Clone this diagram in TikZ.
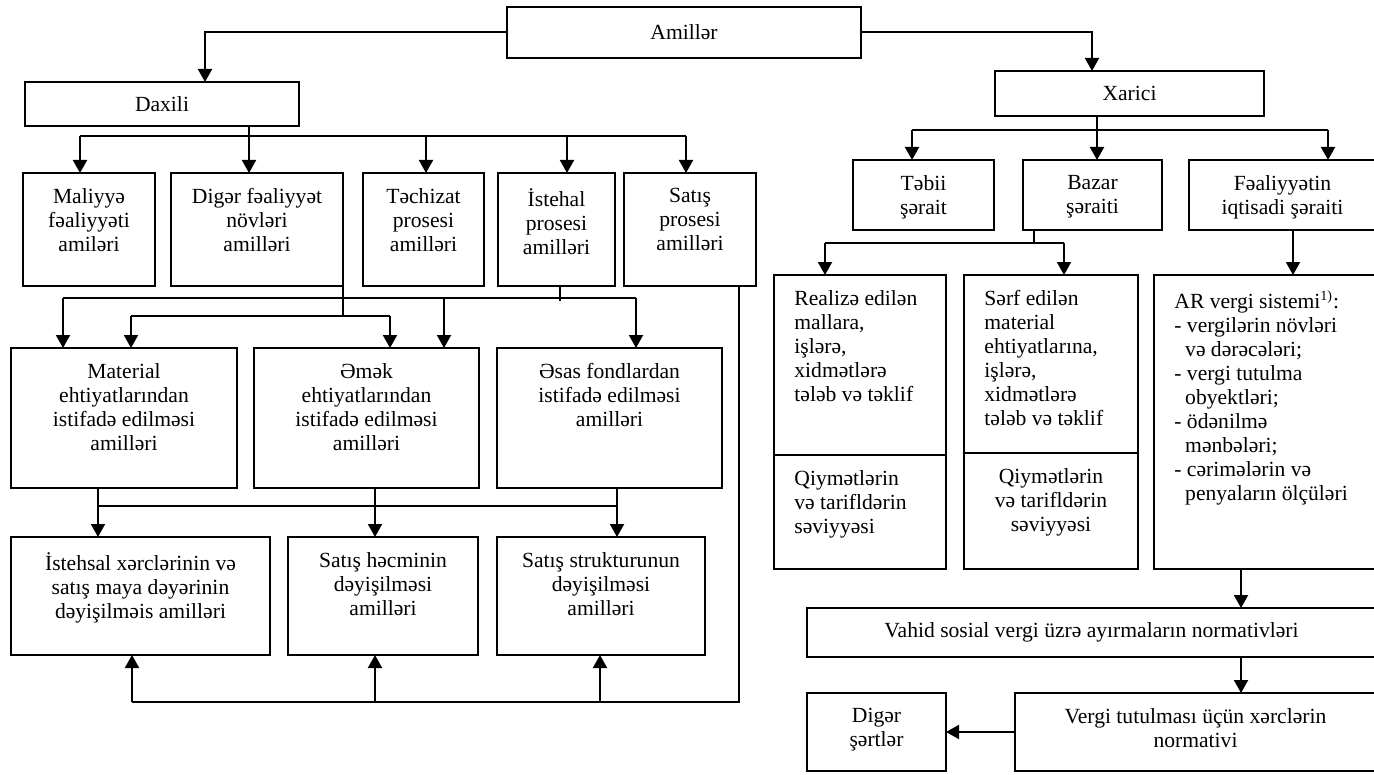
\documentclass[tikz,border=0pt]{standalone}
\usepackage{fontspec}
\setmainfont{Liberation Serif}
\usetikzlibrary{arrows.meta}

\tikzset{
  box/.style={draw, line width=1pt, anchor=north west, inner sep=0pt, outer sep=0pt, align=center},
  toptxt/.style={anchor=north, inner sep=0pt, align=center, yshift=-7.5pt},
  lefttxt/.style={anchor=north west, inner sep=0pt, align=left, xshift=10pt, yshift=-7.5pt},
  line/.style={line width=1pt},
  arr/.style={line width=1pt, -{Triangle[length=6.5pt,width=7pt]}},
}

\begin{document}
\begin{tikzpicture}[x=0.5pt, y=-0.5pt, font=\fontsize{10.8}{12}\selectfont]
  \useasboundingbox (0,0) rectangle (1374,775);

  % --- Amillər, Daxili, Xarici ---
  \node[box, minimum width=177pt, minimum height=25.5pt] (amil) at (507,7) {Amillər};
  \node[box, minimum width=137pt, minimum height=22pt] (dax) at (25,82) {Daxili};
  \node[box, minimum width=134.5pt, minimum height=22.5pt] (xar) at (995,71) {Xarici};

  % --- daxili amillər ---
  \node[box, minimum width=66pt, minimum height=56.5pt,
        label={[toptxt]north:{Maliyyə\\fəaliyyəti\\amiləri}}] (mal) at (23,173) {};
  \node[box, minimum width=86pt, minimum height=56.5pt,
        label={[toptxt]north:{Digər fəaliyyət\\növləri\\amilləri}}] (dig) at (171,173) {};
  \node[box, minimum width=60.5pt, minimum height=56.5pt,
        label={[toptxt]north:{Təchizat\\prosesi\\amilləri}}] (tec) at (363,173) {};
  \node[box, minimum width=58.5pt, minimum height=56.5pt,
        label={[toptxt]north:{İstehal\\prosesi\\amilləri}}] (ist) at (498,173) {};
  \node[box, minimum width=66pt, minimum height=56.5pt,
        label={[toptxt]north:{Satış\\prosesi\\amilləri}}] (sat) at (624,173) {};

  % --- ehtiyatlardan istifadə ---
  \node[box, minimum width=113pt, minimum height=70pt,
        label={[toptxt]north:{Material\\ehtiyatlarından\\istifadə edilməsi\\amilləri}}] (mat) at (11,348) {};
  \node[box, minimum width=112.5pt, minimum height=70pt,
        label={[toptxt]north:{Əmək\\ehtiyatlarından\\istifadə edilməsi\\amilləri}}] (emk) at (254,348) {};
  \node[box, minimum width=112.5pt, minimum height=70pt,
        label={[toptxt]north:{Əsas fondlardan\\istifadə edilməsi\\amilləri}}] (esa) at (497,348) {};

  % --- nəticə amilləri ---
  \node[box, minimum width=129.5pt, minimum height=59pt,
        label={[toptxt]north:{İstehsal xərclərinin və\\satış maya dəyərinin\\dəyişilməis amilləri}}] (xer) at (11,537) {};
  \node[box, minimum width=95pt, minimum height=59pt,
        label={[toptxt]north:{Satış həcminin\\dəyişilməsi\\amilləri}}] (hcm) at (288,537) {};
  \node[box, minimum width=104pt, minimum height=59pt,
        label={[toptxt]north:{Satış strukturunun\\dəyişilməsi\\amilləri}}] (str) at (497,537) {};

  % --- xarici amillər ---
  \node[box, minimum width=70.5pt, minimum height=35pt,
        label={[toptxt]north:{Təbii\\şərait}}] (teb) at (853,160) {};
  \node[box, minimum width=69.5pt, minimum height=35pt,
        label={[toptxt]north:{Bazar\\şəraiti}}] (baz) at (1023,160) {};
  \node[box, minimum width=93.5pt, minimum height=35pt,
        label={[toptxt]north:{Fəaliyyətin\\iqtisadi şəraiti}}] (fea) at (1189,160) {};

  \node[box, minimum width=86pt, minimum height=90pt,
        label={[lefttxt]north west:{Realizə edilən\\mallara,\\işlərə,\\xidmətlərə\\tələb və təklif}}] (rea) at (774,275) {};
  \node[box, minimum width=86pt, minimum height=57pt,
        label={[lefttxt]north west:{Qiymətlərin\\və tarifldərin\\səviyyəsi}}] (reaq) at (774,455) {};
  \node[box, minimum width=87pt, minimum height=89pt,
        label={[lefttxt]north west:{Sərf edilən\\material\\ehtiyatlarına,\\işlərə,\\xidmətlərə\\tələb və təklif}}] (serf) at (964,275) {};
  \node[box, minimum width=87pt, minimum height=58pt,
        label={[toptxt]north:{Qiymətlərin\\və tarifldərin\\səviyyəsi}}] (serfq) at (964,453) {};
  \node[box, minimum width=111pt, minimum height=147pt,
        label={[lefttxt]north west:{AR vergi sistemi\textsuperscript{\scriptsize 1)}:\\
          - vergilərin növləri\\\hspace*{0.5em}və dərəcələri;\\
          - vergi tutulma\\\hspace*{0.5em}obyektləri;\\
          - ödənilmə\\\hspace*{0.5em}mənbələri;\\
          - cərimələrin və\\\hspace*{0.5em}penyaların ölçüləri}}] (ar) at (1154,275) {};

  \node[box, minimum width=284.5pt, minimum height=24.5pt] (vah) at (807,608)
      {Vahid sosial vergi üzrə ayırmaların normativləri};
  \node[box, minimum width=180.5pt, minimum height=39pt,
        label={[toptxt]north:{Vergi tutulması üçün xərclərin\\normativi}}] (ver) at (1015,693) {};
  \node[box, minimum width=69.5pt, minimum height=39pt,
        label={[toptxt]north:{Digər\\şərtlər}}] (dgr) at (807,693) {};

  % --- oxlar: yuxarı hissə ---
  \draw[arr] (amil.west) -| (205,0 |- dax.north);
  \draw[arr] (amil.east) -| (1092,0 |- xar.north);

  \draw[line] (249,0 |- dax.south) -- (249,136);
  \draw[line] (80,136) -- (686,136);
  \foreach \x/\n in {80/mal, 249/dig, 426/tec, 567/ist, 686/sat}
    \draw[arr] (\x,136) -- (\x,0 |- \n.north);

  \draw[line] (1097,0 |- xar.south) -- (1097,130);
  \draw[line] (912,130) -- (1328,130);
  \foreach \x/\n in {912/teb, 1097/baz, 1328/fea}
    \draw[arr] (\x,130) -- (\x,0 |- \n.north);

  % --- oxlar: sol hissə ---
  \draw[line] (dig.south east) -- (dig.south east |- 0,316);
  \draw[line] (131,316) -- (390,316);
  \draw[arr] (131,316) -- (131,0 |- mat.north);
  \draw[arr] (390,316) -- (390,0 |- emk.north);

  \draw[line] (560,0 |- ist.south) -- (560,301);
  \draw[line] (63,298) -- (636,298);
  \foreach \x/\n in {63/mat, 444/emk, 636/esa}
    \draw[arr] (\x,298) -- (\x,0 |- \n.north);

  \foreach \x/\n in {98/mat, 375/emk, 617/esa}
    \draw[line] (\x,0 |- \n.south) -- (\x,506);
  \draw[line] (98,506) -- (617,506);
  \foreach \x/\n in {98/xer, 375/hcm, 617/str}
    \draw[arr] (\x,506) -- (\x,0 |- \n.north);

  \draw[line] (739,0 |- sat.south) -- (739,702) -- (132,702);
  \foreach \x/\n in {132/xer, 375/hcm, 600/str}
    \draw[arr] (\x,702) -- (\x,0 |- \n.south);

  % --- oxlar: sağ hissə ---
  \draw[line] (1034,0 |- baz.south) -- (1034,243);
  \draw[line] (825,243) -- (1064,243);
  \draw[arr] (825,243) -- (825,0 |- rea.north);
  \draw[arr] (1064,243) -- (1064,0 |- serf.north);

  \draw[arr] (1293,0 |- fea.south) -- (1293,0 |- ar.north);
  \draw[arr] (1241,0 |- ar.south) -- (1241,0 |- vah.north);
  \draw[arr] (1241,0 |- vah.south) -- (1241,0 |- ver.north);
  \draw[arr] (ver.west) -- (dgr.east);

\end{tikzpicture}
\end{document}
